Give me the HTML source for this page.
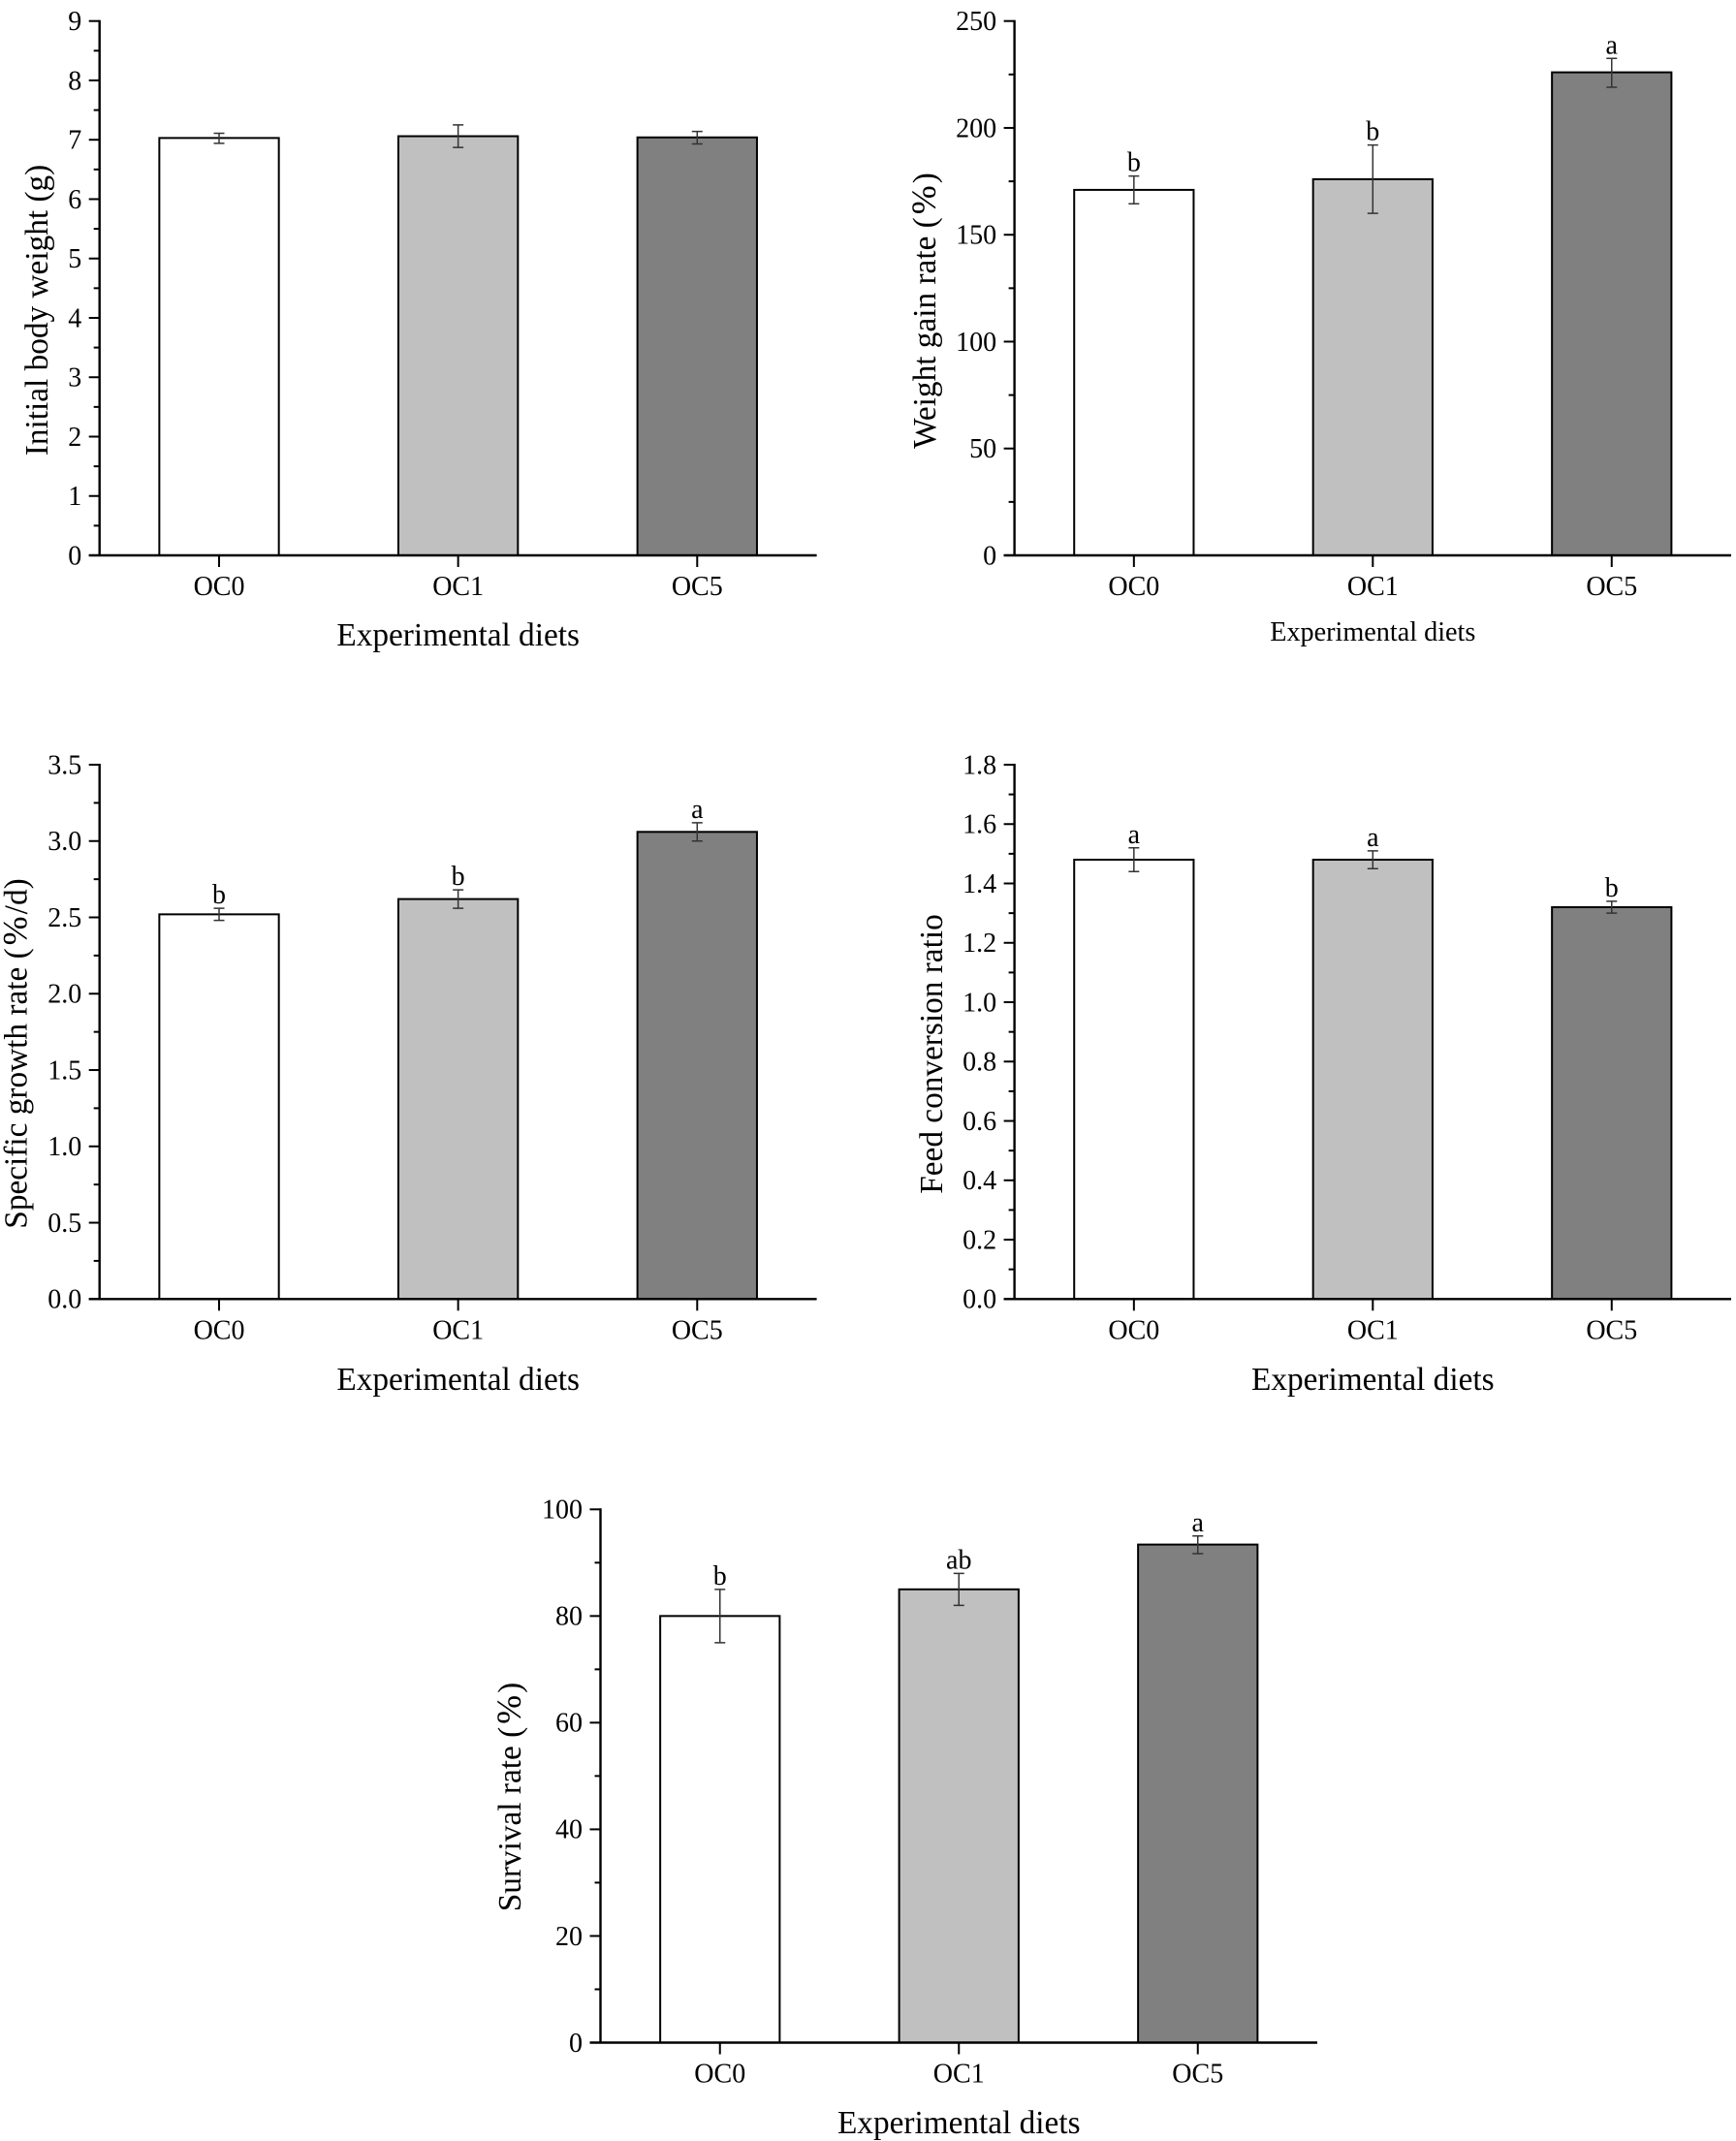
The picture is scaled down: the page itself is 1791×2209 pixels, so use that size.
<!DOCTYPE html>
<html lang="en">
<head>
<meta charset="utf-8">
<title>Growth performance by experimental diet</title>
<style>
  html, body { margin: 0; padding: 0; background: #fff; }
  svg { display: block; filter: blur(0.35px); }
  text { font-family: "Liberation Serif", "Times New Roman", serif; fill: #000; }
</style>
</head>
<body>
<svg id="fig" xmlns="http://www.w3.org/2000/svg" width="1791" height="2209" viewBox="0 0 1791 2209"></svg>
<script>
// ---- shared data ----
const categories = ['OC0', 'OC1', 'OC5'];
const barFills = ['#ffffff', '#c0c0c0', '#808080'];

// ---- initial body weight ----
const ibwTicks = ['0', '1', '2', '3', '4', '5', '6', '7', '8', '9'];
const ibwValues = [7.03, 7.06, 7.04];
const ibwErrHigh = [7.11, 7.25, 7.14];
const ibwErrLow = [6.94, 6.87, 6.93];
const ibwLetters = ['', '', ''];

// ---- weight gain rate ----
const wgrTicks = ['0', '50', '100', '150', '200', '250'];
const wgrValues = [171, 176, 226];
const wgrErrHigh = [177.5, 192, 232.5];
const wgrErrLow = [164.5, 160, 219];
const wgrLetters = ['b', 'b', 'a'];

// ---- specific growth rate ----
const sgrTicks = ['0.0', '0.5', '1.0', '1.5', '2.0', '2.5', '3.0', '3.5'];
const sgrValues = [2.52, 2.62, 3.06];
const sgrErrHigh = [2.56, 2.68, 3.12];
const sgrErrLow = [2.48, 2.56, 3.00];
const sgrLetters = ['b', 'b', 'a'];

// ---- feed conversion ratio ----
const fcrTicks = ['0.0', '0.2', '0.4', '0.6', '0.8', '1.0', '1.2', '1.4', '1.6', '1.8'];
const fcrValues = [1.48, 1.48, 1.32];
const fcrErrHigh = [1.52, 1.51, 1.34];
const fcrErrLow = [1.44, 1.45, 1.30];
const fcrLetters = ['a', 'a', 'b'];

// ---- survival rate ----
const srTicks = ['0', '20', '40', '60', '80', '100'];
const srValues = [80, 85, 93.4];
const srErrHigh = [85, 88, 95];
const srErrLow = [75, 82, 91.7];
const srLetters = ['b', 'ab', 'a'];

// ---- panel definitions (layout lives here, values above) ----
const panels = [
  { id: 'initial-body-weight', title: 'Initial body weight (g)', ticks: ibwTicks, values: ibwValues, high: ibwErrHigh, low: ibwErrLow, letters: ibwLetters,
    left: 102.7, right: 842.6, top: 21.7, base: 573, yTitleX: 49, yTitleY: 320, xTitleBase: 666, xTitleSize: 33.3 },
  { id: 'weight-gain-rate', title: 'Weight gain rate (%)', ticks: wgrTicks, values: wgrValues, high: wgrErrHigh, low: wgrErrLow, letters: wgrLetters,
    left: 1046.6, right: 1786, top: 21.7, base: 573, yTitleX: 965, yTitleY: 320.5, xTitleBase: 661, xTitleSize: 28.2 },
  { id: 'specific-growth-rate', title: 'Specific growth rate (%/d)', ticks: sgrTicks, values: sgrValues, high: sgrErrHigh, low: sgrErrLow, letters: sgrLetters,
    left: 102.7, right: 842.6, top: 789, base: 1340.3, yTitleX: 27.5, yTitleY: 1087, xTitleBase: 1434, xTitleSize: 33.3 },
  { id: 'feed-conversion-ratio', title: 'Feed conversion ratio', ticks: fcrTicks, values: fcrValues, high: fcrErrHigh, low: fcrErrLow, letters: fcrLetters,
    left: 1046.6, right: 1786, top: 789, base: 1340.3, yTitleX: 972, yTitleY: 1087.5, xTitleBase: 1434, xTitleSize: 33.3 },
  { id: 'survival-rate', title: 'Survival rate (%)', ticks: srTicks, values: srValues, high: srErrHigh, low: srErrLow, letters: srLetters,
    left: 619.5, right: 1359, top: 1557.3, base: 2107.5, yTitleX: 537, yTitleY: 1854, xTitleBase: 2201, xTitleSize: 33.3 }
];

const SVG_NS = 'http://www.w3.org/2000/svg';
const fig = document.getElementById('fig');

function make(parent, tag, attrs, content) {
  const node = document.createElementNS(SVG_NS, tag);
  for (const k in attrs) node.setAttribute(k, attrs[k]);
  if (content !== undefined) node.textContent = content;
  parent.appendChild(node);
  return node;
}

function drawPanel(p) {
  const tickValues = p.ticks.map(Number);
  const yMax = tickValues[tickValues.length - 1];
  const yScale = v => p.base - (v / yMax) * (p.base - p.top);
  const band = (p.right - p.left) / categories.length;
  const xCenter = i => p.left + band * (i + 0.5);
  const barWidth = band * 0.5;

  const group = make(fig, 'g', {});
  
  

  // bars
  categories.forEach((cat, i) => {
    const top = yScale(p.values[i]);
    const bar = make(group, 'rect', {
      x: xCenter(i) - barWidth / 2, y: top, width: barWidth, height: p.base - top,
      fill: barFills[i], stroke: '#000', 'stroke-width': 2
    });
    
    
  });

  // y axis line
  const yAxis = make(group, 'line', { x1: p.left, x2: p.left, y1: p.top - 1, y2: p.base + 1, stroke: '#000', 'stroke-width': 2.4 });
  
  

  // x axis line
  const xAxis = make(group, 'line', { x1: p.left - 11, x2: p.right, y1: p.base, y2: p.base, stroke: '#000', 'stroke-width': 2.4 });
  
  

  // y ticks and labels
  tickValues.forEach((v, i) => {
    const y = yScale(v);
    const tick = make(group, 'line', { x1: p.left - 11, x2: p.left, y1: y, y2: y, stroke: '#000', 'stroke-width': 2 });
    
    

    const label = make(group, 'text', { x: p.left - 18.5, y: y + 9.3, 'text-anchor': 'end', 'font-size': 28 }, p.ticks[i]);
    
    

    if (i < tickValues.length - 1) {
      const my = yScale((v + tickValues[i + 1]) / 2);
      const minor = make(group, 'line', { x1: p.left - 6, x2: p.left, y1: my, y2: my, stroke: '#000', 'stroke-width': 2 });
      
      
    }
  });

  // x ticks, labels, error bars, significance letters
  categories.forEach((cat, i) => {
    const cx = xCenter(i);
    const tick = make(group, 'line', { x1: cx, x2: cx, y1: p.base, y2: p.base + 12, stroke: '#000', 'stroke-width': 2 });
    
    

    const label = make(group, 'text', { x: cx, y: p.base + 41, 'text-anchor': 'middle', 'font-size': 28 }, cat);
    
    

    const yHigh = yScale(p.high[i]);
    const yLow = yScale(p.low[i]);
    const err = make(group, 'path', {
      d: 'M' + (cx - 5.5) + ' ' + yHigh + 'H' + (cx + 5.5) + 'M' + cx + ' ' + yHigh + 'V' + yLow + 'M' + (cx - 5.5) + ' ' + yLow + 'H' + (cx + 5.5),
      fill: 'none', stroke: '#333', 'stroke-width': 1.5
    });
    
    

    if (p.letters[i]) {
      const sig = make(group, 'text', { x: cx, y: yHigh - 5, 'text-anchor': 'middle', 'font-size': 28 }, p.letters[i]);
      
      
    }
  });

  // axis titles
  const xTitle = make(group, 'text', { x: (p.left + p.right) / 2, y: p.xTitleBase, 'text-anchor': 'middle', 'font-size': p.xTitleSize }, 'Experimental diets');
  
  

  const yTitle = make(group, 'text', {
    x: 0, y: 0, 'text-anchor': 'middle', 'font-size': 33.3,
    transform: 'translate(' + p.yTitleX + ' ' + p.yTitleY + ') rotate(-90)'
  });
  
  

  // the percent sign is drawn wider and loosely spaced in the original
  const pct = p.title.indexOf('%');
  if (pct < 0) {
    yTitle.textContent = p.title;
  } else {
    make(yTitle, 'tspan', {}, p.title.slice(0, pct));
    make(yTitle, 'tspan', { dx: 3, 'font-size': 36 }, '%');
    make(yTitle, 'tspan', { dx: 2 }, p.title.slice(pct + 1));
  }
}

panels.forEach(drawPanel);
</script>
</body>
</html>
